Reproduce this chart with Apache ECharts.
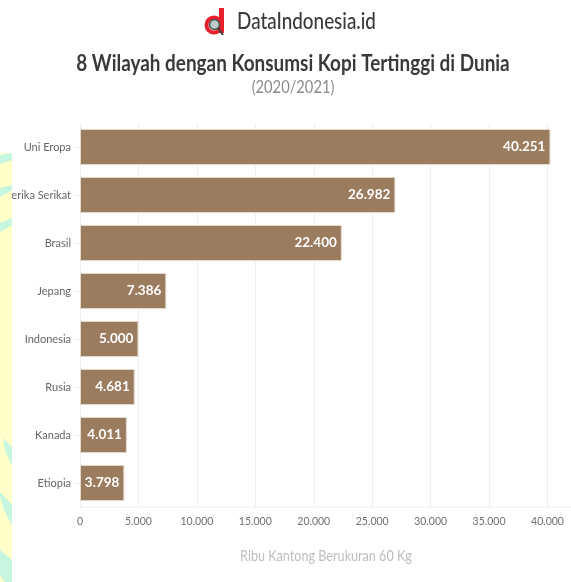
<!DOCTYPE html>
<html><head><meta charset="utf-8">
<style>html,body{margin:0;padding:0;background:#fff}#c{width:571px;height:582px;filter:blur(0.45px)}</style>
<script src="https://cdn.jsdelivr.net/npm/echarts@6/dist/echarts.min.js"></script>
</head><body><div id="c"></div>
<script>
const categories=["Uni Eropa","Amerika Serikat","Brasil","Jepang","Indonesia","Rusia","Kanada","Etiopia"];
const values=[40251,26982,22400,7386,5000,4681,4011,3798];
const brand="DataIndonesia.id";
const titleText="8 Wilayah dengan Konsumsi Kopi Tertinggi di Dunia";
const subtitleText="(2020/2021)";
const axisTitle="Ribu Kantong Berukuran 60 Kg";
const FONT="Lato";
const dots=v=>String(v).replace(/\B(?=(\d{3})+$)/g,".");
const mint="#c6f5e0",yellow="#fffdc8";
const poly=(pts,fill,z)=>({type:"polygon",silent:true,z:z||20,shape:{points:pts},style:{fill}});
const label=(text,cx,cy,size,weight,fill,sx)=>({type:"text",silent:true,z:30,x:cx,y:cy,scaleX:sx,
  style:{text,fontFamily:FONT,fontSize:size,fontWeight:weight,fill,align:"center",verticalAlign:"middle"}});
const chart=echarts.init(document.getElementById("c"),null,{renderer:"canvas"});
chart.setOption({
 animation:false,
 backgroundColor:"#fff",
 grid:{left:80,top:123,right:23.5,bottom:75,containLabel:false,outerBoundsMode:"none"},
 xAxis:{type:"value",min:0,max:40000,interval:5000,
  axisLine:{show:false},axisTick:{show:false},
  axisLabel:{fontFamily:FONT,fontSize:10.5,color:"#707070",margin:9,formatter:v=>dots(v)},
  splitLine:{show:true,lineStyle:{color:"#eeeeee",width:1}}},
 yAxis:{type:"category",inverse:true,data:categories,
  axisLine:{show:true,lineStyle:{color:"#eeeeee"}},
  axisTick:{show:true,alignWithLabel:true,length:5,lineStyle:{color:"#eeeeee"}},
  axisLabel:{fontFamily:FONT,fontSize:11,color:"#666",margin:9}},
 series:[{type:"bar",data:values,barWidth:36,clip:false,
  itemStyle:{color:"#9c7c5e",borderColor:"#e6d9cc",borderWidth:1},
  label:{show:true,position:"insideRight",distance:5,fontFamily:FONT,fontSize:13.5,fontWeight:700,color:"#fff",formatter:p=>dots(p.value)}}],
 graphic:[
  {type:"line",silent:true,z:1,shape:{x1:80,y1:507,x2:571,y2:507},style:{stroke:"#eeeeee",lineWidth:1}},
  {type:"rect",silent:true,z:19,shape:{x:0,y:153,width:12,height:429},style:{fill:yellow}},
  poly([[0,155],[12,153],[12,160],[0,164]],mint),
  poly([[0,188],[12,185],[12,190],[0,197]],mint),
  poly([[0,223],[12,218],[12,225],[0,232]],mint),
  poly([[3,438],[12,447],[12,466],[5,450]],mint),
  poly([[0,492],[12,505],[12,525],[4,510],[0,496]],mint),
  poly([[0,550],[12,560],[12,582],[5,582],[0,575]],mint),
  {type:"ring",silent:true,z:30,shape:{cx:214,cy:25,r:9.5,r0:5.5},style:{fill:"#e8202c"}},
  {type:"rect",silent:true,z:30,shape:{x:219,y:8,width:5,height:25},style:{fill:"#e8202c"}},
  {type:"circle",silent:true,z:31,shape:{cx:214.5,cy:24.5,r:5},style:{fill:"#b9c9c4",stroke:"#4a4a4a",lineWidth:1.4}},
  {type:"line",silent:true,z:31,shape:{x1:218,y1:28,x2:223,y2:35},style:{stroke:"#3a3a3a",lineWidth:2}},
  label(brand,306.5,22,23,500,"#3a3a3a",0.82),
  label(titleText,293,64,22,700,"#3a3a3a",0.86),
  label(subtitleText,293,88,17,400,"#8a8a8a",0.865),
  label(axisTitle,326,556,14.5,400,"#bdbdbd",0.87)
 ]
});
</script></body></html>
